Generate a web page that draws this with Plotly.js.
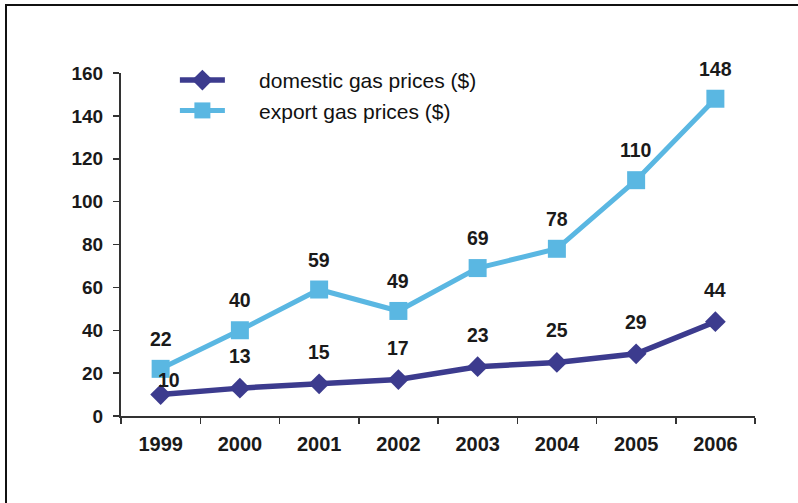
<!DOCTYPE html>
<html>
<head>
<meta charset="utf-8">
<script src="https://cdn.plot.ly/plotly-3.0.1.min.js"></script>
<style>
  html, body { margin: 0; padding: 0; background: #fff; }
  #chart { position: absolute; left: 0; top: 0; width: 798px; height: 503px; }
  #frame { position: absolute; left: 5px; top: 4px; width: 820px; height: 520px;
           border-top: 2px solid #111; border-left: 2px solid #111; pointer-events: none; }
</style>
</head>
<body>
<div id="chart"></div>
<div id="frame"></div>
<script>
const years = ['1999', '2000', '2001', '2002', '2003', '2004', '2005', '2006'];
const domestic = [10, 13, 15, 17, 23, 25, 29, 44];
const exportP = [22, 40, 59, 49, 69, 78, 110, 148];
const seriesNames = ['domestic gas prices ($)', 'export gas prices ($)'];
const yTicks = [0, 20, 40, 60, 80, 100, 120, 140, 160];

const domColor = '#3c3b8e';
const expColor = '#5ab7e2';
const numFont = { family: 'Liberation Sans, Arial, sans-serif', size: 19.5, color: '#1a1a1a', weight: 'bold' };
const gap = '\u00a0\u00a0\u00a0\u00a0\u00a0';

const traces = [
  {
    x: years, y: domestic, name: gap + seriesNames[0], type: 'scatter', mode: 'lines+markers',
    line: { color: domColor, width: 5.5 },
    marker: { symbol: 'diamond', size: 16, color: domColor },
    hoverinfo: 'skip'
  },
  {
    x: years, y: exportP, name: gap + seriesNames[1], type: 'scatter', mode: 'lines+markers',
    line: { color: expColor, width: 5 },
    marker: { symbol: 'square', size: 18, color: expColor },
    hoverinfo: 'skip'
  }
];

const annotations = [];
years.forEach((yr, i) => {
  const first = i === 0;
  annotations.push({
    x: i, y: domestic[i], text: String(domestic[i]), showarrow: false,
    xref: 'x', yref: 'y', yshift: first ? 15 : 32, xshift: first ? 8 : 0, font: Object.assign({}, numFont)
  });
  annotations.push({
    x: i, y: exportP[i], text: String(exportP[i]), showarrow: false,
    xref: 'x', yref: 'y', yshift: 30, font: Object.assign({}, numFont)
  });
});

const layout = {
  width: 798, height: 503,
  margin: { l: 121, r: 43, t: 73, b: 87 },
  paper_bgcolor: '#fff', plot_bgcolor: '#fff',
  showlegend: true,
  legend: {
    x: 0.085, y: 1.038, xanchor: 'left', yanchor: 'top',
    font: { family: 'Liberation Sans, Arial, sans-serif', size: 21, color: '#111' },
    itemwidth: 45, tracegroupgap: 0, bgcolor: 'rgba(0,0,0,0)'
  },
  xaxis: {
    type: 'category', range: [-0.5, 7.5],
    showline: true, linecolor: '#333', linewidth: 2,
    ticks: 'outside', tickson: 'boundaries', ticklen: 6, tickcolor: '#333', tickwidth: 1.5,
    showgrid: false, zeroline: false,
    tickfont: { family: 'Liberation Sans, Arial, sans-serif', size: 20, color: '#1a1a1a', weight: 'bold' },
    ticklabelstandoff: 9, fixedrange: true
  },
  yaxis: {
    range: [0, 160], tickvals: yTicks, ticktext: yTicks.map(String),
    showline: true, linecolor: '#333', linewidth: 2,
    ticks: 'outside', ticklen: 6, tickcolor: '#333', tickwidth: 1.5,
    showgrid: false, zeroline: false,
    tickfont: { family: 'Liberation Sans, Arial, sans-serif', size: 19, color: '#1a1a1a', weight: 'bold' },
    ticklabelstandoff: 6, fixedrange: true
  },
  annotations: annotations
};

Plotly.newPlot('chart', traces, layout, { displayModeBar: false, staticPlot: true });
</script>
</body>
</html>
